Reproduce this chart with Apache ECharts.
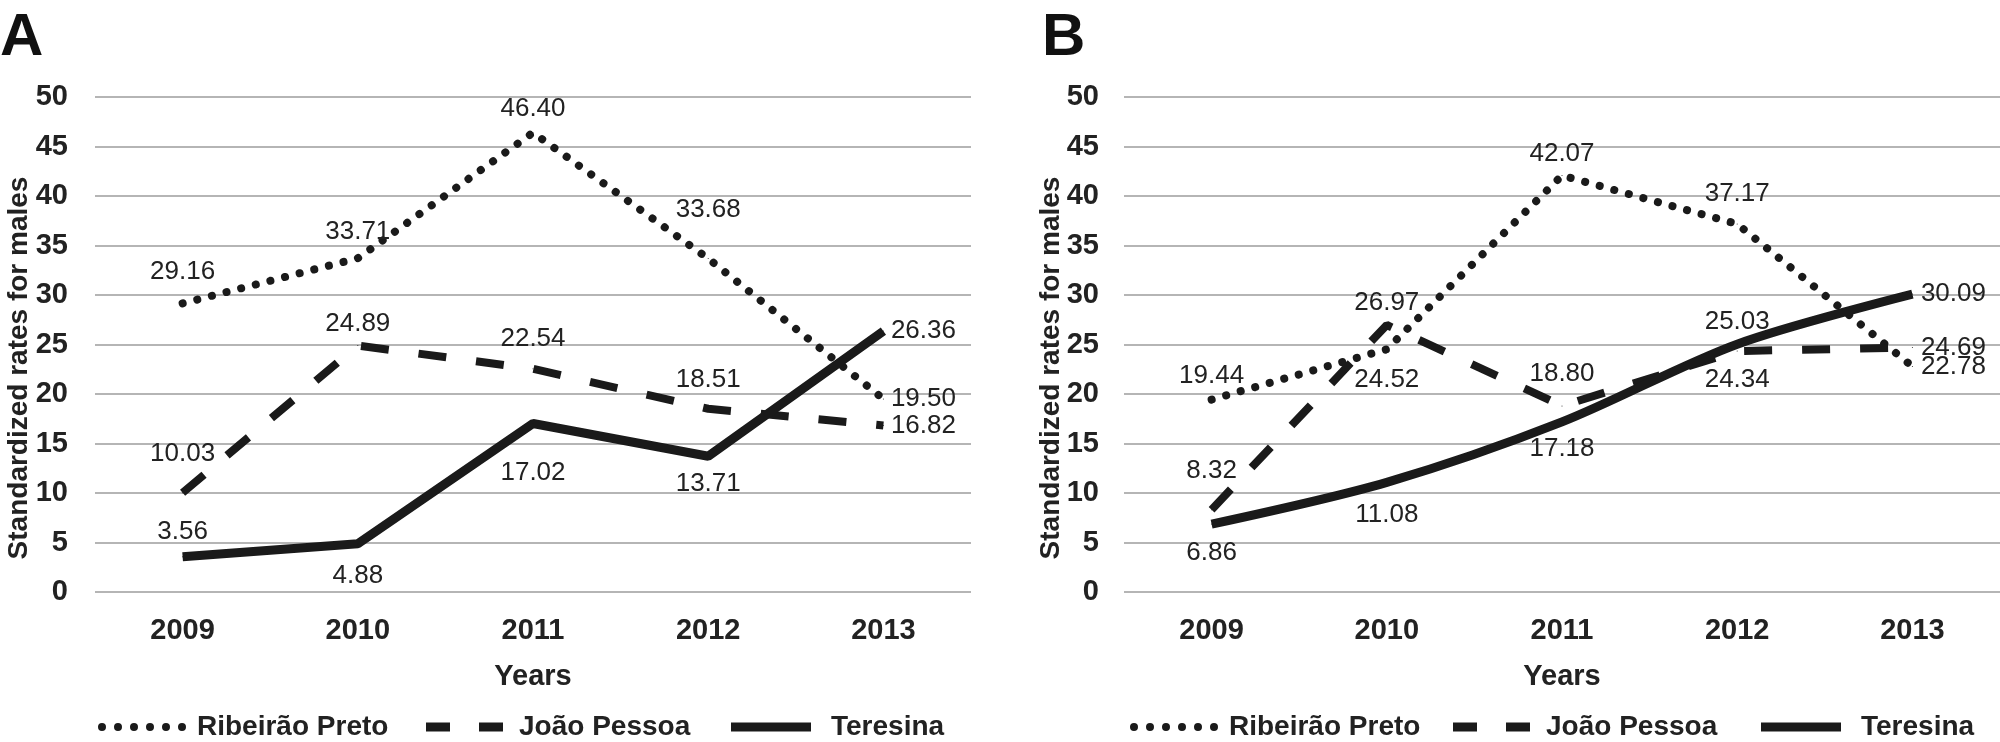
<!DOCTYPE html>
<html>
<head>
<meta charset="utf-8">
<script src="https://cdn.jsdelivr.net/npm/echarts@6/dist/echarts.min.js"></script>
<style>
  html, body { margin: 0; padding: 0; background: #fff; }
  #chart { width: 2000px; height: 742px; }
</style>
</head>
<body>
<div id="chart"></div>
<script>
// ---- data ----
const years = ['2009', '2010', '2011', '2012', '2013'];
const cities = ['Ribeirão Preto', 'João Pessoa', 'Teresina'];
const yMin = 0, yMax = 50, yStep = 5;

// panel A
const ribeiraoA = [29.16, 33.71, 46.40, 33.68, 19.50];
const joaoA = [10.03, 24.89, 22.54, 18.51, 16.82];
const teresinaA = [3.56, 4.88, 17.02, 13.71, 26.36];

// panel B
const ribeiraoB = [19.44, 24.52, 42.07, 37.17, 22.78];
const joaoB = [8.32, 26.97, 18.80, 24.34, 24.69];
const teresinaB = [6.86, 11.08, 17.18, 25.03, 30.09];

// label placement per point: [position, distance, dx, dy]
const placeA = [
  [['top', 18, 0, 0], ['top', 13, -15, 0], ['top', 10, 0, 0], ['top', 35, 0, 0], ['right', 7, 0, 6]],
  [['top', 25, -5, 0], ['top', 8, 6, 0], ['top', 17, 5, 0], ['top', 15, 0, 0], ['right', 7, 0, 20]],
  [['top', 11, -5, 0], ['bottom', 19, 6, 0], ['bottom', 36, 4, 0], ['bottom', 14, 5, 0], ['right', 7, 0, -4]]
];
const placeB = [
  [['top', 10, 0, 0], ['bottom', 17, 0, 0], ['top', 8, 0, 0], ['top', 17, 0, 0], ['right', 8, 0, 20]],
  [['top', 25, 0, 0], ['top', 9, 0, 0], ['top', 19, 0, 0], ['bottom', 15, 0, 0], ['right', 8, 0, -2]],
  [['bottom', 15, 0, 0], ['bottom', 19, 0, 0], ['bottom', 13, 0, 0], ['top', 9, 0, 0], ['right', 8, 0, 0]]
];

// ---- styles ----
const ink = '#1a1a1a';
const font = 'Liberation Sans, Arial, sans-serif';
const lineStyles = [
  { width: 8, type: [0.1, 15], cap: 'round' },
  { width: 8, type: [28, 30], cap: 'butt' },
  { width: 9, type: 'solid', cap: 'butt' }
];
const legendIcons = [
  'path://M0,4a4,4 0 1,0 8,0a4,4 0 1,0 -8,0M16,4a4,4 0 1,0 8,0a4,4 0 1,0 -8,0M32,4a4,4 0 1,0 8,0a4,4 0 1,0 -8,0M48,4a4,4 0 1,0 8,0a4,4 0 1,0 -8,0M64,4a4,4 0 1,0 8,0a4,4 0 1,0 -8,0M80,4a4,4 0 1,0 8,0a4,4 0 1,0 -8,0',
  'path://M0,0h24v9h-24zM53,0h24v9h-24z',
  'path://M0,0h80v9h-80z'
];
const legendW = [88, 77, 80];
const legendGapText = [6, 11, 15];
const legendLeftA = [98, 426, 731];
const legendLeftB = [1130, 1453, 1761];

function buildData(values, place) {
  return values.map(function (v, i) {
    const p = place[i];
    return {
      value: v,
      label: { position: p[0], distance: p[1], offset: [p[2], p[3]] }
    };
  });
}

function makeSeries(panel, valuesList, places) {
  return valuesList.map(function (vals, k) {
    return {
      name: cities[k],
      type: 'line',
      xAxisIndex: panel,
      yAxisIndex: panel,
      symbol: 'circle',
      symbolSize: 1,
      showSymbol: true,
      smooth: (panel === 1 && k === 2) ? 0.3 : false,
      color: ink,
      itemStyle: { color: ink },
      lineStyle: Object.assign({ color: ink }, lineStyles[k]),
      label: {
        show: true,
        fontFamily: font,
        fontSize: 26,
        color: '#222',
        formatter: function (p) { return p.value.toFixed(2); }
      },
      labelLayout: { hideOverlap: false },
      data: buildData(vals, places[k])
    };
  });
}

function makeXAxis(gridIndex) {
  return {
    type: 'category',
    gridIndex: gridIndex,
    data: years,
    boundaryGap: true,
    axisLine: { show: false },
    axisTick: { show: false },
    axisLabel: { fontFamily: font, fontSize: 29, fontWeight: 'bold', color: '#222', margin: 24 },
    name: 'Years',
    nameLocation: 'middle',
    nameGap: 70,
    nameTextStyle: { fontFamily: font, fontSize: 29, fontWeight: 'bold', color: '#222' }
  };
}

function makeYAxis(gridIndex, margin) {
  return {
    type: 'value',
    gridIndex: gridIndex,
    min: yMin,
    max: yMax,
    interval: yStep,
    axisLine: { show: false },
    axisTick: { show: false },
    axisLabel: { fontFamily: font, fontSize: 29, fontWeight: 'bold', color: '#222', margin: margin },
    splitLine: { lineStyle: { color: '#b5b5b5', width: 2 } }
  };
}

function makeLegends(lefts) {
  return cities.map(function (c, k) {
    return {
      data: [{ name: c, icon: legendIcons[k] }],
      left: lefts[k],
      top: 713,
      padding: 0,
      itemWidth: legendW[k],
      itemHeight: 9,
      itemStyle: { color: ink, borderWidth: 0 },
      textStyle: {
        fontFamily: font, fontSize: 28, fontWeight: 'bold', color: '#222',
        padding: [0, 0, 0, legendGapText[k]]
      }
    };
  });
}

const chart = echarts.init(document.getElementById('chart'), null, { renderer: 'canvas' });

chart.setOption({
  animation: false,
  backgroundColor: '#fff',
  grid: [
    { left: 95, top: 97, width: 876, height: 495 },
    { left: 1124, top: 97, width: 882, height: 495 }
  ],
  xAxis: [makeXAxis(0), makeXAxis(1)],
  yAxis: [makeYAxis(0, 27), makeYAxis(1, 25)],
  legend: makeLegends(legendLeftA).concat(makeLegends(legendLeftB)),
  graphic: [
    { type: 'text', left: 0, top: 8, style: { text: 'A', fontFamily: font, fontSize: 60, fontWeight: 'bold', fill: '#111' } },
    { type: 'text', left: 1042, top: 8, style: { text: 'B', fontFamily: font, fontSize: 60, fontWeight: 'bold', fill: '#111' } },
    { type: 'text', x: 19, y: 368, rotation: Math.PI / 2,
      style: { text: 'Standardized rates for males', fontFamily: font, fontSize: 28, fontWeight: 'bold', fill: '#222', align: 'center', verticalAlign: 'middle' } },
    { type: 'text', x: 1051, y: 368, rotation: Math.PI / 2,
      style: { text: 'Standardized rates for males', fontFamily: font, fontSize: 28, fontWeight: 'bold', fill: '#222', align: 'center', verticalAlign: 'middle' } }
  ],
  series: makeSeries(0, [ribeiraoA, joaoA, teresinaA], placeA)
    .concat(makeSeries(1, [ribeiraoB, joaoB, teresinaB], placeB))
});
</script>
</body>
</html>
